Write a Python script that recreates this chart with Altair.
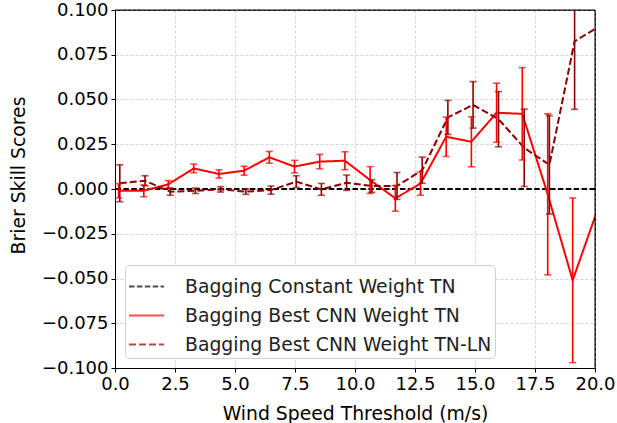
import altair as alt
import pandas as pd

labels = ["Bagging Constant Weight TN", "Bagging Best CNN Weight TN", "Bagging Best CNN Weight TN-LN"]
colors = ["black", "#ff0000", "#8b0000"]
dashes = [[5.5, 2.4], [1, 0], [7, 3]]

# constant-weight reference (zero skill)
const_values = [0.0]

# Best CNN weight TN
x_tn = [0.15, 1.2, 2.22, 3.28, 4.33, 5.38, 6.43, 7.48, 8.53, 9.58,
        10.63, 11.68, 12.73, 13.8, 14.85, 15.9, 16.97, 18.03, 19.07, 20.12]
bss_tn = [-0.001, -0.001, 0.0026, 0.0115, 0.0084, 0.0102, 0.0177, 0.0125, 0.0153, 0.0158,
          0.005, -0.0052, 0.003, 0.0292, 0.0264, 0.0426, 0.042, -0.003, -0.051, -0.011]
err_tn = [0.004, 0.0033, 0.0021, 0.0024, 0.0023, 0.0025, 0.0033, 0.0035, 0.004, 0.005,
          0.0075, 0.0072, 0.0065, 0.011, 0.014, 0.0165, 0.0258, 0.045, 0.046, 0.04]

# Best CNN weight TN-LN
x_tnln = [0.2, 1.25, 2.3, 3.35, 4.4, 5.45, 6.5, 7.55, 8.6, 9.65,
          10.7, 11.75, 12.8, 13.87, 14.92, 15.98, 17.05, 18.1, 19.15, 20.2]
bss_tnln = [0.0032, 0.0046, -0.0015, -0.001, -0.0002, -0.0015, -0.0006, 0.0041, -0.0002, 0.0035,
            0.0017, 0.0017, 0.0105, 0.040, 0.047, 0.039, 0.023, 0.0135, 0.0825, 0.091]
err_tnln = [0.0103, 0.0028, 0.002, 0.0015, 0.0015, 0.0015, 0.0023, 0.0033, 0.0033, 0.0043,
            0.0035, 0.0075, 0.0073, 0.0095, 0.013, 0.0154, 0.0216, 0.0275, 0.038, 0.03]

x_ticks = [0, 2.5, 5, 7.5, 10, 12.5, 15, 17.5, 20]
y_ticks = [-0.1, -0.075, -0.05, -0.025, 0, 0.025, 0.05, 0.075, 0.1]

df = pd.concat([
    pd.DataFrame({"x": x_tn, "y": bss_tn, "err": err_tn, "series": labels[1]}),
    pd.DataFrame({"x": x_tnln, "y": bss_tnln, "err": err_tnln, "series": labels[2]}),
], ignore_index=True)
df["lo"] = df["y"] - df["err"]
df["hi"] = df["y"] + df["err"]
const_df = pd.DataFrame({"y": const_values, "series": labels[0]})

xs = alt.Scale(domain=[x_ticks[0], x_ticks[-1]], nice=False, zero=False)
ys = alt.Scale(domain=[y_ticks[0], y_ticks[-1]], nice=False)

leg = alt.Legend(
    title=None, orient="none", legendX=10, legendY=255,
    symbolType="stroke", symbolSize=1225, symbolStrokeWidth=2,
    labelFontSize=18.8, labelLimit=0, padding=3, rowPadding=0,
    fillColor="white", strokeColor="#d0d0d0", cornerRadius=4,
    labelOffset=20,
)
color = alt.Color("series:N", scale=alt.Scale(domain=labels, range=colors), legend=leg)
dash = alt.StrokeDash("series:N", scale=alt.Scale(domain=labels, range=dashes), legend=leg)

xaxis = alt.Axis(values=x_ticks, format=".1f",
                 title="Wind Speed Threshold (m/s)", titleY=51, titleBaseline="alphabetic")
yaxis = alt.Axis(values=y_ticks, format=".3f",
                 title="Brier Skill Scores", titleX=-96.5, titleY=165, titleBaseline="middle")

base = alt.Chart(df)

rule0 = alt.Chart(const_df).mark_rule(strokeWidth=1.8).encode(
    y=alt.Y("y:Q", scale=ys, axis=yaxis), color=color, strokeDash=dash)

# top and right frame lines (spines) drawn above the grid
top_spine = alt.Chart(const_df).mark_rule(strokeWidth=1, color="black").encode(
    y=alt.datum(y_ticks[-1], scale=ys))
right_spine = alt.Chart(const_df).mark_rule(strokeWidth=1, color="black").encode(
    x=alt.datum(x_ticks[-1], scale=xs))

lines = base.mark_line(strokeWidth=2, clip=True).encode(
    x=alt.X("x:Q", scale=xs, axis=xaxis),
    y=alt.Y("y:Q", scale=ys, axis=yaxis),
    color=color, strokeDash=dash)

bars = base.mark_rule(strokeWidth=1.6, clip=True).encode(
    x=alt.X("x:Q", scale=xs), y=alt.Y("lo:Q", scale=ys), y2="hi:Q", color=color)

caps = base.transform_fold(["lo", "hi"], as_=["end", "val"]).mark_tick(
    orient="horizontal", size=7, thickness=1.6, clip=True).encode(
    x=alt.X("x:Q", scale=xs), y=alt.Y("val:Q", scale=ys), color=color)

chart = alt.layer(rule0, lines, bars, caps, top_spine, right_spine).properties(
    width=480, height=358,
    autosize=alt.AutoSizeParams(type="none"),
    padding={"left": 115, "top": 10, "right": 22, "bottom": 55},
).configure(font="DejaVu Sans").configure_view(
    stroke="black", strokeWidth=1
).configure_axis(
    labelFontSize=18, titleFontSize=18.8, titleFontWeight="normal",
    labelColor="black", titleColor="black", domainColor="black", tickColor="black",
    tickSize=4, labelPadding=3, gridColor="#c8c8c8", gridDash=[3, 2], gridWidth=0.8,
    labelFlush=False,
).configure_legend(labelColor="#222222")

chart.save("out.html", embed_options={"renderer": "svg", "actions": False})
